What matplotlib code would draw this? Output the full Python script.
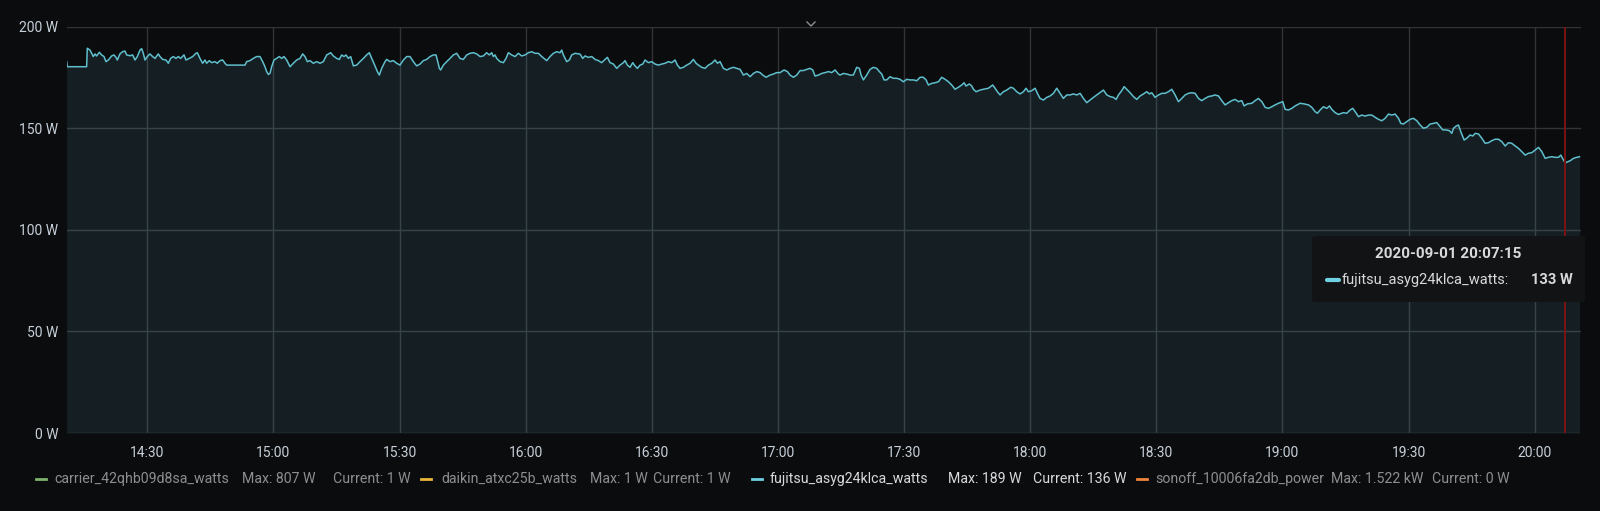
import matplotlib
matplotlib.use("Agg")
import matplotlib.pyplot as plt
import matplotlib.dates as mdates
from matplotlib.lines import Line2D
from matplotlib.patches import FancyBboxPatch
import pandas as pd

plt.rcParams['font.family'] = ['Roboto', 'DejaVu Sans']

# ---------------- data ----------------
DAY = "2020-09-01 14:00"
# minutes after 14:00
minutes = [
    10.83, 10.97, 15.57, 15.73, 16.37, 16.76, 17.16, 17.56, 17.95, 18.59, 19.14, 19.70, 20.17, 20.73,
    21.52, 22.07, 22.55, 22.87, 23.50, 24.14, 24.69, 25.09, 25.88, 26.52, 27.07, 27.63, 28.26, 28.66,
    29.05, 29.45, 30.00, 30.64, 31.27, 31.83, 32.62, 33.02, 33.65, 34.44, 35.00, 35.55, 36.19, 36.82,
    37.38, 37.93, 38.73, 39.20, 39.99, 40.79, 41.58, 41.90, 42.53, 43.17, 43.72, 44.12, 44.75, 45.31,
    46.10, 46.65, 47.29, 47.92, 48.48, 48.87, 53.24, 53.63, 54.43, 55.22, 56.01, 56.80, 57.44, 57.99,
    58.39, 58.79, 59.18, 59.58, 60.13, 60.77, 61.40, 61.96, 62.51, 63.15, 63.94, 64.73, 65.53, 66.32,
    66.95, 67.51, 68.06, 68.70, 69.49, 70.28,
    71.08, 71.87, 72.67, 73.62, 74.25, 75.04, 75.68, 76.23, 76.79, 77.26, 77.82, 78.37, 79.01, 79.80,
    80.59, 81.39, 82.18, 82.81, 83.37, 84.16, 84.72, 85.19, 85.75, 86.54, 86.94, 87.73, 88.52, 89.32,
    90.11, 90.90, 91.70, 92.49, 93.28, 94.07, 94.87, 95.66, 96.45, 97.25, 98.04, 98.67, 98.99, 99.47,
    99.78, 100.42, 101.21, 102.00, 102.80, 103.59, 104.38, 105.17, 105.97, 106.76, 107.55, 108.35,
    109.14, 109.93, 110.72, 111.36, 111.91, 112.31, 112.71, 113.10, 113.90, 114.69, 115.32, 115.88,
    116.67, 117.46, 118.26, 119.05, 119.84, 120.64, 121.43, 122.22, 123.01, 123.81, 124.36, 125.00,
    125.79, 126.58, 127.38, 128.17, 128.56, 128.96, 129.75, 130.39, 130.94, 131.74, 132.93,
    133.56, 134.12, 134.91, 135.71, 136.50, 137.29, 138.08, 138.88, 139.43, 140.07, 140.86, 141.65,
    142.44, 143.24, 143.63, 144.19, 144.82, 145.46, 146.01, 146.57, 147.20, 147.84, 148.39, 149.18,
    149.98, 150.77, 151.56, 152.36, 153.15, 153.94, 154.73, 155.53, 156.08, 156.72, 157.51, 158.30,
    159.10, 159.89, 160.52, 161.08, 161.87, 162.66, 163.46, 164.25, 165.04, 165.60, 166.23, 167.02,
    167.82, 168.61, 169.40, 170.20, 170.99, 171.78, 172.57, 173.37, 174.16, 174.95, 175.75, 176.38,
    177.17, 178.13, 178.92, 179.71, 180.50, 181.46, 182.25, 182.88, 183.68, 184.47, 185.26, 186.05,
    186.85, 187.64, 188.27, 188.83, 189.62, 190.41, 191.21, 192.00, 192.79, 193.59, 194.38,
    194.77, 195.56, 196.36, 197.15, 197.94, 198.73, 199.37, 199.77, 200.32, 201.11, 201.91, 202.70,
    203.49, 204.13, 204.68, 205.24, 205.87, 206.66, 207.46, 208.25, 209.04, 209.83, 210.63, 211.42,
    212.21, 213.01, 213.80, 214.59, 215.23, 215.78, 216.57, 217.37, 218.16, 218.95, 219.75, 220.54,
    221.33, 222.13, 222.92, 223.71, 224.27, 224.74, 225.53, 226.09, 226.49, 227.12, 228.07, 228.86,
    230.05, 231.08, 231.64, 232.19, 232.83, 233.62, 234.41, 235.37, 236.00, 236.79, 237.59, 238.38,
    239.01, 239.57, 240.36, 241.15, 241.71, 242.34, 243.14, 243.93, 244.72, 245.52, 246.31, 247.10,
    247.89, 248.69, 249.48, 250.27, 251.07, 251.86, 252.65, 253.45, 254.24, 255.03, 255.82,
    256.62, 257.41, 258.21, 259.00, 259.79, 260.43, 260.98, 261.77, 262.33, 262.96, 263.76, 264.55,
    265.34, 266.13, 266.93, 267.72, 268.35, 268.91, 269.70, 270.50, 271.29, 272.08, 272.87, 273.67,
    274.46, 275.25, 276.05, 276.84, 277.63, 278.42, 279.22, 280.01, 280.80, 281.60, 282.39, 283.18,
    283.98, 284.77, 285.56, 286.35, 287.15, 287.94, 288.73, 289.53, 290.32, 290.87, 291.67, 292.70,
    293.49, 294.28, 295.08, 295.87, 296.66, 297.45, 298.25, 299.04, 300.07, 300.63, 301.42, 302.21,
    303.00, 304.19, 305.14, 306.18, 306.97, 307.76, 308.32, 308.95, 309.74, 310.54, 311.17, 311.73,
    312.52, 313.31,
    314.50, 315.30, 316.09, 316.72, 317.28, 318.07, 318.86, 319.66, 320.45, 321.24, 322.04, 322.83,
    323.62, 324.41, 325.21, 326.00, 326.79, 327.59, 328.14, 328.77, 329.57, 330.36, 331.15, 331.95,
    332.74, 333.53, 334.33, 335.12, 335.91, 336.70, 337.50, 338.13, 338.92, 339.72, 340.27, 340.67,
    341.30, 341.86, 342.41, 343.21, 343.84, 344.63, 345.27, 345.82, 346.62, 347.41, 348.20, 348.99,
    349.79, 350.58, 351.37, 352.17, 352.96, 353.75, 354.54, 355.34, 356.13, 356.92, 357.72, 358.51,
    359.30, 360.09, 360.89, 361.68, 362.47, 363.27, 364.06, 364.85, 365.64, 366.20, 366.83, 367.25,
    368.42, 369.21, 370.01, 370.64,
]
watts = [
    182.8, 180.3, 180.3, 189.4, 188.5, 186.9, 185.3, 186.6, 185.6, 187.4, 186.1, 185.3, 182.8, 183.6,
    185.6, 186.1, 184.9, 183.6, 186.6, 187.7, 188.0, 186.1, 185.7, 186.1, 183.6, 185.3, 188.5, 189.2,
    186.9, 183.6, 185.3, 186.6, 185.3, 184.4, 186.6, 185.3, 183.9, 183.6, 182.0, 184.4, 185.3, 184.4,
    185.3, 184.4, 186.1, 183.6, 184.4, 185.3, 186.9, 187.2, 184.4, 182.0, 183.6, 182.0, 183.3, 182.3,
    182.8, 182.0, 183.3, 183.6, 182.0, 181.1, 181.1, 182.8, 183.3, 184.4, 185.3, 185.3, 182.8, 180.3,
    177.9, 176.5, 177.0, 180.3, 183.6, 184.4, 185.3, 184.4, 185.3, 183.6, 180.3, 182.0, 183.6, 184.4,
    186.6, 185.3, 182.8, 183.3, 182.0, 182.8,
    182.0, 182.8, 186.1, 187.2, 185.6, 184.4, 183.9, 186.1, 185.3, 186.1, 184.4, 185.3, 180.7, 181.1,
    182.8, 184.4, 186.1, 187.2, 184.4, 180.7, 177.9, 176.2, 179.5, 182.8, 183.9, 182.8, 183.3, 182.0,
    181.1, 183.6, 185.3, 185.3, 182.8, 180.7, 181.6, 183.3, 183.9, 185.3, 186.1, 186.1, 183.6, 179.5,
    178.7, 181.1, 182.8, 184.4, 186.1, 186.9, 184.4, 183.9, 186.1, 186.9, 187.2, 186.6,
    185.3, 185.6, 187.2, 186.1, 187.2, 185.3, 186.1, 184.4, 182.8, 182.3, 184.4, 187.2,
    186.1, 185.3, 186.9, 185.6, 186.1, 187.2, 187.7, 186.9, 186.9, 185.3, 184.4, 183.3,
    185.3, 186.9, 187.7, 187.2, 188.5, 186.1, 182.8, 183.6, 186.1, 186.9, 186.5,
    184.4, 185.6, 184.9, 185.3, 183.9, 183.3, 182.3, 183.9, 184.9, 182.3, 181.6, 179.5,
    181.1, 182.3, 183.3, 181.1, 180.0, 182.3, 180.7, 179.5, 181.1, 181.6, 183.6, 182.3,
    182.8, 181.6, 181.1, 181.6, 182.0, 182.8, 182.3, 183.6, 181.1, 179.5, 180.0, 181.1,
    182.0, 183.9, 182.0, 181.1, 180.0, 179.5, 181.1, 182.0, 183.6, 182.0, 182.8, 179.5,
    178.7, 179.5, 180.0, 179.5, 179.0, 176.2, 177.0, 175.4, 177.0, 177.9, 177.4, 176.2,
    175.1, 176.2, 176.7, 177.4, 177.4, 178.7, 177.9, 176.2, 175.1, 176.2, 178.4, 178.4,
    179.0, 179.5, 178.7, 175.7, 176.2, 177.0, 177.4, 177.9, 177.4, 178.7, 176.7,
    176.2, 177.0, 176.7, 176.2, 176.2, 180.0, 179.5, 176.2, 173.8, 176.2, 179.0, 180.0,
    179.5, 177.9, 176.7, 173.8, 173.8, 175.4, 174.6, 174.6, 174.1, 172.9, 174.1, 173.8,
    173.8, 173.4, 175.1, 175.1, 173.8, 171.3, 172.1, 172.4, 172.9, 175.1, 174.1, 172.9,
    171.3, 169.2, 170.2, 171.3, 172.4, 170.8, 171.8, 170.8, 169.2, 168.0, 168.8, 169.2,
    169.7, 171.3, 169.7, 168.0, 166.4, 168.0, 168.8, 170.2, 169.7, 168.0, 166.9, 168.0,
    169.7, 168.0, 168.5, 169.7, 167.2, 164.7, 163.9, 165.2, 165.9, 167.2, 169.7, 167.2,
    164.7, 166.4, 166.4, 166.9, 166.4, 167.2, 164.7, 162.6, 163.9, 165.2, 166.4,
    167.6, 168.8, 166.4, 165.6, 165.2, 164.2, 166.4, 168.5, 170.5, 169.2, 167.5, 165.6,
    164.2, 165.9, 166.9, 168.0, 166.9, 167.5, 165.2, 166.4, 167.2, 167.2, 168.0, 169.2,
    166.4, 163.1, 164.7, 166.4, 167.2, 167.5, 167.2, 164.7, 163.6, 164.7, 165.6, 165.9,
    166.4, 165.9, 163.6, 161.5, 162.6, 163.6, 164.2, 163.1, 163.6, 161.0, 162.0, 162.3,
    163.6, 164.7, 163.1, 160.3, 159.8, 160.6, 161.5, 162.3, 163.1, 159.3, 159.0, 159.8,
    161.0, 162.3, 162.0, 161.5, 160.3, 158.2, 157.4, 159.0, 160.6, 159.8, 161.0, 159.3,
    157.7, 156.8,
    157.7, 157.4, 159.0, 159.8, 158.2, 155.7, 156.5, 156.0, 156.5, 156.5, 155.4, 154.4,
    153.7, 154.9, 157.0, 156.5, 157.0, 154.9, 152.4, 152.1, 153.3, 154.4, 154.9, 153.7,
    151.6, 150.0, 150.5, 152.1, 152.4, 152.8, 150.8, 149.2, 149.2, 148.8, 147.5, 150.0,
    151.1, 151.6, 148.3, 144.2, 145.1, 146.7, 146.2, 147.5, 147.2, 145.1, 142.6, 142.9,
    143.9, 144.6, 144.6, 143.4, 141.3, 142.9, 142.6, 141.3, 140.1, 138.5, 136.8, 137.7,
    138.0, 139.3, 140.6, 138.5, 135.2, 135.7, 136.0, 135.7, 135.7, 136.8, 134.4, 133.0,
    134.0, 135.2, 135.7, 136.0,
]
y_ticks = [0, 50, 100, 150, 200]
y_unit = "W"
x_start_min, x_end_min = 10.83, 371.0
cursor_time = "2020-09-01 20:07:15"
cursor_value = "133 W"

series_names = ["carrier_42qhb09d8sa_watts", "daikin_atxc25b_watts",
                "fujitsu_asyg24klca_watts", "sonoff_10006fa2db_power"]
series_max = ["807 W", "1 W", "189 W", "1.522 kW"]
series_current = ["1 W", "1 W", "136 W", "0 W"]
series_colors = ["#7EB26D", "#EAB839", "#6ED0E0", "#EF843C"]
series_visible = [False, False, True, False]

# ---------------- figure ----------------
W, H = 1600, 511
BG = "#0b0c0e"
fig = plt.figure(figsize=(W / 100, H / 100), dpi=100, facecolor=BG)

def fx(x):
    return x / W

def fy(y):
    return 1 - y / H

L, R, T, B = 66.7, 1581.0, 26.7, 433.0
ax = fig.add_axes([fx(L), fy(B), fx(R) - fx(L), fy(T) - fy(B)])
ax.set_facecolor(BG)

base = pd.Timestamp(DAY)
times = base + pd.to_timedelta(minutes, unit="min")

line_color = "#6ED0E0"
ax.fill_between(times, watts, 0, color=line_color, alpha=0.1, linewidth=0, zorder=2)
ax.plot(times, watts, color="#5fbfcd", lw=1.1, zorder=3, solid_joinstyle="round")

ax.set_xlim(base + pd.Timedelta(minutes=x_start_min), base + pd.Timedelta(minutes=x_end_min))
ax.set_ylim(0, 200)
ax.set_yticks(y_ticks)
ax.set_yticklabels([f"{v} {y_unit}" for v in y_ticks])
ax.xaxis.set_major_locator(mdates.MinuteLocator(byminute=[0, 30]))
ax.xaxis.set_major_formatter(mdates.DateFormatter("%H:%M"))

ax.grid(True, color="#323438", lw=1.0, zorder=1)
ax.set_axisbelow(True)
for s in ax.spines.values():
    s.set_visible(False)
ax.tick_params(axis="both", length=0, colors="#c7d0d9", labelsize=10)
ax.tick_params(axis="y", pad=6)
ax.tick_params(axis="x", pad=9)

# cursor line
ax.axvline(pd.Timestamp(cursor_time), color="#7c1313", lw=1.4, zorder=4)

# chevron at top
fig.add_artist(Line2D([fx(807), fx(811), fx(815)], [fy(22), fy(26), fy(22)],
                      color="#8e8e8e", lw=1.0, transform=fig.transFigure))

# tooltip
box = FancyBboxPatch((fx(1312), fy(302)), fx(1585) - fx(1312), fy(236) - fy(302),
                     boxstyle="round,pad=0,rounding_size=0.004", transform=fig.transFigure,
                     facecolor="#121315", edgecolor="none", zorder=10)
fig.add_artist(box)
fig.text(fx(1448), fy(254), cursor_time, color="#d8d9da", fontsize=11, fontweight="bold",
         ha="center", va="center", zorder=11)
fig.add_artist(Line2D([fx(1327), fx(1339)], [fy(280), fy(280)], color=line_color, lw=3,
                      transform=fig.transFigure, zorder=11, solid_capstyle="round"))
fig.text(fx(1342), fy(280), series_names[2] + ":", color="#d8d9da", fontsize=10.5,
         ha="left", va="center", zorder=11)
fig.text(fx(1573), fy(280), cursor_value, color="#d8d9da", fontsize=10.5, fontweight="bold",
         ha="right", va="center", zorder=11)

# legend
legend_y = 479
swatch_x = [36, 421, 752, 1137]
name_x = [54, 441, 770, 1155]
max_x = [242, 590, 948, 1331]
cur_x = [333, 653, 1033, 1432]
for i in range(4):
    tc = "#d8d9da" if series_visible[i] else "#8e8e8e"
    fig.add_artist(Line2D([fx(swatch_x[i]), fx(swatch_x[i] + 10)], [fy(legend_y), fy(legend_y)],
                          color=series_colors[i], lw=2, transform=fig.transFigure))
    fig.text(fx(name_x[i]), fy(legend_y), series_names[i], color=tc, fontsize=10.2,
             ha="left", va="center")
    fig.text(fx(max_x[i]), fy(legend_y), "Max: " + series_max[i], color=tc, fontsize=10.2,
             ha="left", va="center")
    fig.text(fx(cur_x[i]), fy(legend_y), "Current: " + series_current[i], color=tc, fontsize=10.2,
             ha="left", va="center")

fig.savefig("out.png", dpi=100, facecolor=BG)
